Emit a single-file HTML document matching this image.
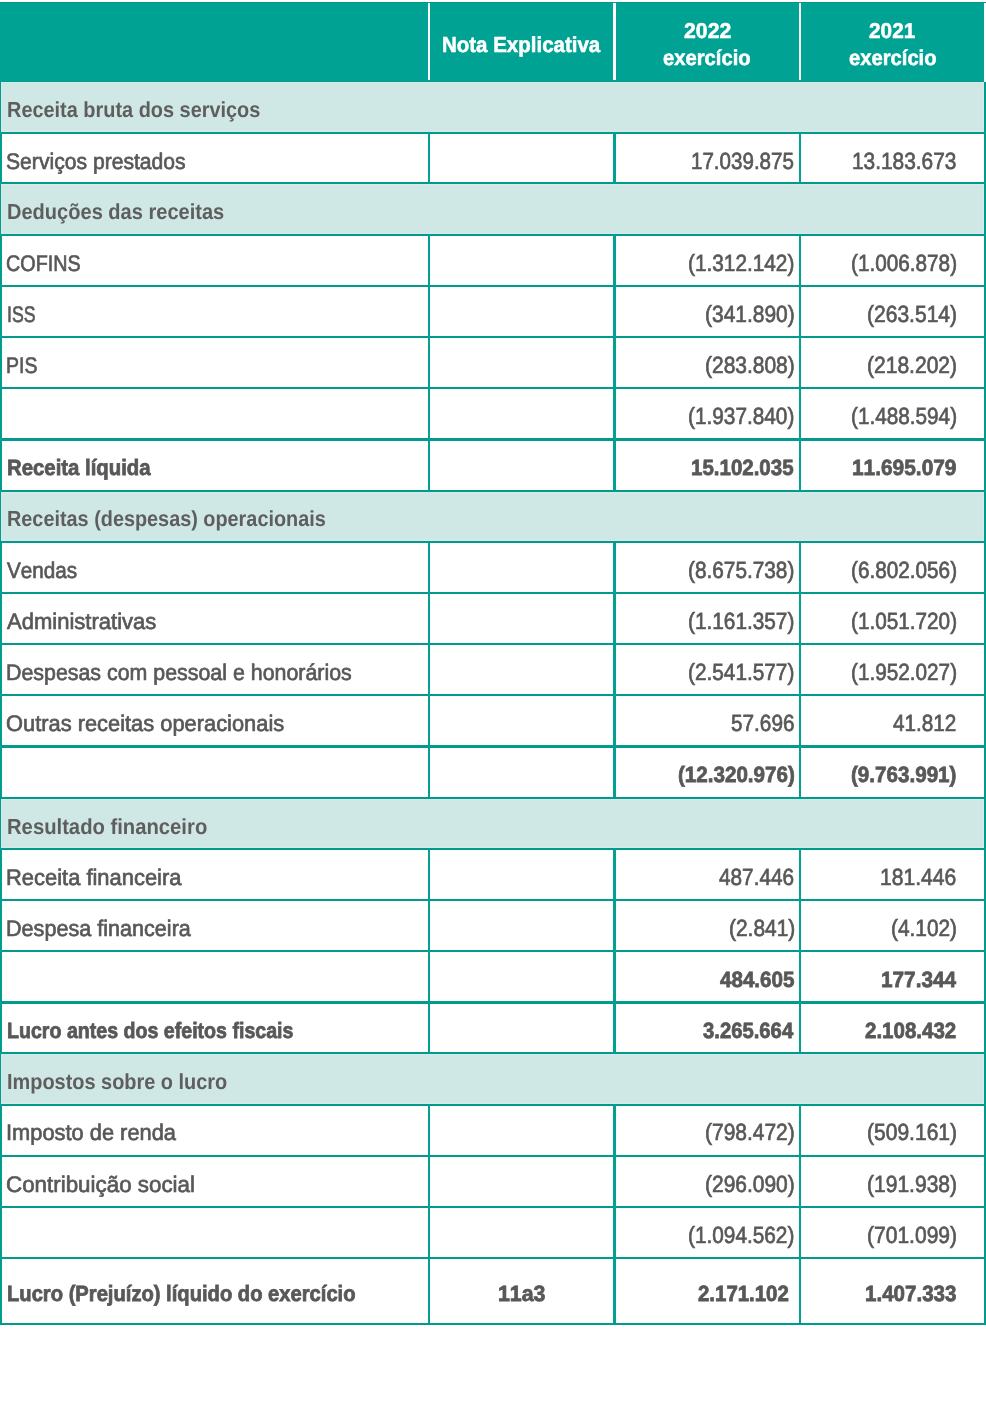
<!DOCTYPE html>
<html><head><meta charset="utf-8"><style>
html,body{margin:0;padding:0;background:#fff}
body{width:986px;height:1421px;overflow:hidden;position:relative;font-family:"Liberation Sans",sans-serif}
div{position:absolute}
.t{text-rendering:geometricPrecision;white-space:nowrap;font-size:20px;line-height:20px;transform-origin:0 0;font-kerning:none;font-variant-ligatures:none}
.L{background:#009b8d}
.V{background:#00a092}
</style></head><body>

<div style="left:0;top:2px;width:986px;height:1px;background:#009a8c"></div>
<div style="left:0;top:3px;width:984px;height:79px;background:#00a294"></div>
<div style="left:0;top:81px;width:984px;height:1px;background:#009c8e"></div>
<div style="left:428px;top:3px;width:2px;height:77px;background:#fff"></div>
<div style="left:613px;top:3px;width:3px;height:77px;background:#fff"></div>
<div style="left:799px;top:3px;width:2px;height:77px;background:#fff"></div>
<div style="left:1px;top:82px;width:983px;height:50px;background:#d0e8e5;box-shadow:inset 0 0 0 1px #d6eae7"></div>
<div style="left:1px;top:184px;width:983px;height:50px;background:#d0e8e5;box-shadow:inset 0 0 0 1px #d6eae7"></div>
<div style="left:1px;top:492px;width:983px;height:49px;background:#d0e8e5;box-shadow:inset 0 0 0 1px #d6eae7"></div>
<div style="left:1px;top:799px;width:983px;height:49px;background:#d0e8e5;box-shadow:inset 0 0 0 1px #d6eae7"></div>
<div style="left:1px;top:1054px;width:983px;height:50px;background:#d0e8e5;box-shadow:inset 0 0 0 1px #d6eae7"></div>
<div class="L" style="left:0;top:82px;width:1px;height:1243px"></div>
<div class="L" style="left:984px;top:82px;width:2px;height:1243px"></div>
<div class="V" style="left:1px;top:132px;width:1px;height:52px"></div>
<div class="V" style="left:428px;top:132px;width:2px;height:52px"></div>
<div class="V" style="left:613px;top:132px;width:3px;height:52px"></div>
<div class="V" style="left:799px;top:132px;width:2px;height:52px"></div>
<div class="V" style="left:1px;top:234px;width:1px;height:258px"></div>
<div class="V" style="left:428px;top:234px;width:2px;height:258px"></div>
<div class="V" style="left:613px;top:234px;width:3px;height:258px"></div>
<div class="V" style="left:799px;top:234px;width:2px;height:258px"></div>
<div class="V" style="left:1px;top:541px;width:1px;height:258px"></div>
<div class="V" style="left:428px;top:541px;width:2px;height:258px"></div>
<div class="V" style="left:613px;top:541px;width:3px;height:258px"></div>
<div class="V" style="left:799px;top:541px;width:2px;height:258px"></div>
<div class="V" style="left:1px;top:848px;width:1px;height:206px"></div>
<div class="V" style="left:428px;top:848px;width:2px;height:206px"></div>
<div class="V" style="left:613px;top:848px;width:3px;height:206px"></div>
<div class="V" style="left:799px;top:848px;width:2px;height:206px"></div>
<div class="V" style="left:1px;top:1104px;width:1px;height:221px"></div>
<div class="V" style="left:428px;top:1104px;width:2px;height:221px"></div>
<div class="V" style="left:613px;top:1104px;width:3px;height:221px"></div>
<div class="V" style="left:799px;top:1104px;width:2px;height:221px"></div>
<div class="L" style="left:0;top:132px;width:986px;height:2px"></div>
<div class="L" style="left:0;top:182px;width:986px;height:2px"></div>
<div class="L" style="left:0;top:234px;width:986px;height:2px"></div>
<div class="L" style="left:0;top:285px;width:986px;height:2px"></div>
<div class="L" style="left:0;top:336px;width:986px;height:2px"></div>
<div class="L" style="left:0;top:387px;width:986px;height:2px"></div>
<div class="L" style="left:0;top:438px;width:986px;height:3px"></div>
<div class="L" style="left:0;top:490px;width:986px;height:2px"></div>
<div class="L" style="left:0;top:541px;width:986px;height:2px"></div>
<div class="L" style="left:0;top:592px;width:986px;height:2px"></div>
<div class="L" style="left:0;top:643px;width:986px;height:2px"></div>
<div class="L" style="left:0;top:694px;width:986px;height:2px"></div>
<div class="L" style="left:0;top:745px;width:986px;height:3px"></div>
<div class="L" style="left:0;top:797px;width:986px;height:2px"></div>
<div class="L" style="left:0;top:848px;width:986px;height:2px"></div>
<div class="L" style="left:0;top:899px;width:986px;height:2px"></div>
<div class="L" style="left:0;top:950px;width:986px;height:2px"></div>
<div class="L" style="left:0;top:1001px;width:986px;height:3px"></div>
<div class="L" style="left:0;top:1052px;width:986px;height:2px"></div>
<div class="L" style="left:0;top:1104px;width:986px;height:2px"></div>
<div class="L" style="left:0;top:1155px;width:986px;height:2px"></div>
<div class="L" style="left:0;top:1206px;width:986px;height:2px"></div>
<div class="L" style="left:0;top:1257px;width:986px;height:2px"></div>
<div class="L" style="left:0;top:1323px;width:986px;height:2px"></div>
<div class="t" style="left:6.57px;top:100.00px;color:#5e5e5e;font-weight:700;transform:matrix(0.9953,0,0,1.0901,0,0)">Receita bruta dos serviços</div>
<div class="t" style="left:6.36px;top:151.00px;color:#585858;-webkit-text-stroke:0.6px #585858;transform:matrix(1.0565,0,0,1.1282,0,0)">Serviços prestados</div>
<div class="t" style="left:6.56px;top:202.00px;color:#5e5e5e;font-weight:700;transform:matrix(1.0022,0,0,1.0901,0,0)">Deduções das receitas</div>
<div class="t" style="left:6.29px;top:253.00px;color:#585858;-webkit-text-stroke:0.6px #585858;transform:matrix(0.9876,0,0,1.1282,0,0)">COFINS</div>
<div class="t" style="left:6.53px;top:304.00px;color:#585858;-webkit-text-stroke:0.6px #585858;transform:matrix(0.8845,0,0,1.1282,0,0)">ISS</div>
<div class="t" style="left:5.69px;top:355.00px;color:#585858;-webkit-text-stroke:0.6px #585858;transform:matrix(0.9743,0,0,1.1282,0,0)">PIS</div>
<div class="t" style="left:6.89px;top:457.00px;color:#585858;font-weight:700;-webkit-text-stroke:0.7px #585858;transform:matrix(1.0175,0,0,1.1065,0,0)">Receita líquida</div>
<div class="t" style="left:6.57px;top:509.00px;color:#5e5e5e;font-weight:700;transform:matrix(0.9922,0,0,1.0901,0,0)">Receitas (despesas) operacionais</div>
<div class="t" style="left:7.22px;top:560.00px;color:#585858;-webkit-text-stroke:0.6px #585858;transform:matrix(1.0352,0,0,1.1282,0,0)">Vendas</div>
<div class="t" style="left:7.29px;top:611.00px;color:#585858;-webkit-text-stroke:0.6px #585858;transform:matrix(1.1016,0,0,1.1282,0,0)">Administrativas</div>
<div class="t" style="left:5.57px;top:662.00px;color:#585858;-webkit-text-stroke:0.6px #585858;transform:matrix(1.0689,0,0,1.1282,0,0)">Despesas com pessoal e honorários</div>
<div class="t" style="left:6.29px;top:713.00px;color:#585858;-webkit-text-stroke:0.6px #585858;transform:matrix(1.0927,0,0,1.1282,0,0)">Outras receitas operacionais</div>
<div class="t" style="left:6.55px;top:817.00px;color:#5e5e5e;font-weight:700;transform:matrix(1.0123,0,0,1.0901,0,0)">Resultado financeiro</div>
<div class="t" style="left:5.53px;top:867.00px;color:#585858;-webkit-text-stroke:0.6px #585858;transform:matrix(1.0959,0,0,1.1282,0,0)">Receita financeira</div>
<div class="t" style="left:5.55px;top:918.00px;color:#585858;-webkit-text-stroke:0.6px #585858;transform:matrix(1.0795,0,0,1.1282,0,0)">Despesa financeira</div>
<div class="t" style="left:6.93px;top:1020.00px;color:#585858;font-weight:700;-webkit-text-stroke:0.7px #585858;transform:matrix(0.9799,0,0,1.1065,0,0)">Lucro antes dos efeitos fiscais</div>
<div class="t" style="left:6.57px;top:1072.00px;color:#5e5e5e;font-weight:700;transform:matrix(0.9958,0,0,1.0901,0,0)">Impostos sobre o lucro</div>
<div class="t" style="left:6.21px;top:1122.00px;color:#585858;-webkit-text-stroke:0.6px #585858;transform:matrix(1.0919,0,0,1.1282,0,0)">Imposto de renda</div>
<div class="t" style="left:6.20px;top:1174.00px;color:#585858;-webkit-text-stroke:0.6px #585858;transform:matrix(1.1183,0,0,1.1282,0,0)">Contribuição social</div>
<div class="t" style="left:6.90px;top:1283.00px;color:#585858;font-weight:700;-webkit-text-stroke:0.7px #585858;transform:matrix(1.0085,0,0,1.1065,0,0)">Lucro (Prejuízo) líquido do exercício</div>
<div class="t" style="left:691.44px;top:150.00px;color:#585858;-webkit-text-stroke:0.6px #585858;transform:matrix(1.0281,0,0,1.1699,0,0)">17.039.875</div>
<div class="t" style="left:852.32px;top:150.00px;color:#585858;-webkit-text-stroke:0.6px #585858;transform:matrix(1.0428,0,0,1.1699,0,0)">13.183.673</div>
<div class="t" style="left:688.42px;top:252.00px;color:#585858;-webkit-text-stroke:0.6px #585858;transform:matrix(1.0397,0,0,1.1699,0,0)">(1.312.142)</div>
<div class="t" style="left:851.03px;top:252.00px;color:#585858;-webkit-text-stroke:0.6px #585858;transform:matrix(1.0367,0,0,1.1699,0,0)">(1.006.878)</div>
<div class="t" style="left:705.12px;top:303.00px;color:#585858;-webkit-text-stroke:0.6px #585858;transform:matrix(1.0474,0,0,1.1699,0,0)">(341.890)</div>
<div class="t" style="left:867.01px;top:303.00px;color:#585858;-webkit-text-stroke:0.6px #585858;transform:matrix(1.0521,0,0,1.1699,0,0)">(263.514)</div>
<div class="t" style="left:705.01px;top:354.00px;color:#585858;-webkit-text-stroke:0.6px #585858;transform:matrix(1.0485,0,0,1.1699,0,0)">(283.808)</div>
<div class="t" style="left:867.01px;top:354.00px;color:#585858;-webkit-text-stroke:0.6px #585858;transform:matrix(1.0521,0,0,1.1699,0,0)">(218.202)</div>
<div class="t" style="left:688.42px;top:405.00px;color:#585858;-webkit-text-stroke:0.6px #585858;transform:matrix(1.0397,0,0,1.1699,0,0)">(1.937.840)</div>
<div class="t" style="left:851.03px;top:405.00px;color:#585858;-webkit-text-stroke:0.6px #585858;transform:matrix(1.0367,0,0,1.1699,0,0)">(1.488.594)</div>
<div class="t" style="left:691.47px;top:457.00px;color:#585858;font-weight:700;-webkit-text-stroke:0.7px #585858;transform:matrix(1.0244,0,0,1.1065,0,0)">15.102.035</div>
<div class="t" style="left:852.05px;top:457.00px;color:#585858;font-weight:700;-webkit-text-stroke:0.7px #585858;transform:matrix(1.0436,0,0,1.1065,0,0)">11.695.079</div>
<div class="t" style="left:688.42px;top:559.00px;color:#585858;-webkit-text-stroke:0.6px #585858;transform:matrix(1.0397,0,0,1.1699,0,0)">(8.675.738)</div>
<div class="t" style="left:851.03px;top:559.00px;color:#585858;-webkit-text-stroke:0.6px #585858;transform:matrix(1.0367,0,0,1.1699,0,0)">(6.802.056)</div>
<div class="t" style="left:688.42px;top:610.00px;color:#585858;-webkit-text-stroke:0.6px #585858;transform:matrix(1.0397,0,0,1.1699,0,0)">(1.161.357)</div>
<div class="t" style="left:851.03px;top:610.00px;color:#585858;-webkit-text-stroke:0.6px #585858;transform:matrix(1.0367,0,0,1.1699,0,0)">(1.051.720)</div>
<div class="t" style="left:688.42px;top:661.00px;color:#585858;-webkit-text-stroke:0.6px #585858;transform:matrix(1.0397,0,0,1.1699,0,0)">(2.541.577)</div>
<div class="t" style="left:851.03px;top:661.00px;color:#585858;-webkit-text-stroke:0.6px #585858;transform:matrix(1.0367,0,0,1.1699,0,0)">(1.952.027)</div>
<div class="t" style="left:730.88px;top:712.00px;color:#585858;-webkit-text-stroke:0.6px #585858;transform:matrix(1.0384,0,0,1.1699,0,0)">57.696</div>
<div class="t" style="left:893.44px;top:712.00px;color:#585858;-webkit-text-stroke:0.6px #585858;transform:matrix(1.0364,0,0,1.1699,0,0)">41.812</div>
<div class="t" style="left:677.63px;top:764.00px;color:#585858;font-weight:700;-webkit-text-stroke:0.7px #585858;transform:matrix(1.0301,0,0,1.1065,0,0)">(12.320.976)</div>
<div class="t" style="left:851.33px;top:764.00px;color:#585858;font-weight:700;-webkit-text-stroke:0.7px #585858;transform:matrix(1.0307,0,0,1.1065,0,0)">(9.763.991)</div>
<div class="t" style="left:719.33px;top:866.00px;color:#585858;-webkit-text-stroke:0.6px #585858;transform:matrix(1.0383,0,0,1.1699,0,0)">487.446</div>
<div class="t" style="left:880.41px;top:866.00px;color:#585858;-webkit-text-stroke:0.6px #585858;transform:matrix(1.0554,0,0,1.1699,0,0)">181.446</div>
<div class="t" style="left:728.52px;top:917.00px;color:#585858;-webkit-text-stroke:0.6px #585858;transform:matrix(1.0457,0,0,1.1699,0,0)">(2.841)</div>
<div class="t" style="left:891.02px;top:917.00px;color:#585858;-webkit-text-stroke:0.6px #585858;transform:matrix(1.0425,0,0,1.1699,0,0)">(4.102)</div>
<div class="t" style="left:719.55px;top:969.00px;color:#585858;font-weight:700;-webkit-text-stroke:0.7px #585858;transform:matrix(1.0300,0,0,1.1065,0,0)">484.605</div>
<div class="t" style="left:880.76px;top:969.00px;color:#585858;font-weight:700;-webkit-text-stroke:0.7px #585858;transform:matrix(1.0387,0,0,1.1065,0,0)">177.344</div>
<div class="t" style="left:703.39px;top:1020.00px;color:#585858;font-weight:700;-webkit-text-stroke:0.7px #585858;transform:matrix(1.0134,0,0,1.1065,0,0)">3.265.664</div>
<div class="t" style="left:865.35px;top:1020.00px;color:#585858;font-weight:700;-webkit-text-stroke:0.7px #585858;transform:matrix(1.0252,0,0,1.1065,0,0)">2.108.432</div>
<div class="t" style="left:705.01px;top:1121.00px;color:#585858;-webkit-text-stroke:0.6px #585858;transform:matrix(1.0485,0,0,1.1699,0,0)">(798.472)</div>
<div class="t" style="left:867.01px;top:1121.00px;color:#585858;-webkit-text-stroke:0.6px #585858;transform:matrix(1.0521,0,0,1.1699,0,0)">(509.161)</div>
<div class="t" style="left:705.01px;top:1173.00px;color:#585858;-webkit-text-stroke:0.6px #585858;transform:matrix(1.0485,0,0,1.1699,0,0)">(296.090)</div>
<div class="t" style="left:867.01px;top:1173.00px;color:#585858;-webkit-text-stroke:0.6px #585858;transform:matrix(1.0521,0,0,1.1699,0,0)">(191.938)</div>
<div class="t" style="left:688.42px;top:1224.00px;color:#585858;-webkit-text-stroke:0.6px #585858;transform:matrix(1.0397,0,0,1.1699,0,0)">(1.094.562)</div>
<div class="t" style="left:867.01px;top:1224.00px;color:#585858;-webkit-text-stroke:0.6px #585858;transform:matrix(1.0521,0,0,1.1699,0,0)">(701.099)</div>
<div class="t" style="left:697.65px;top:1283.00px;color:#585858;font-weight:700;-webkit-text-stroke:0.7px #585858;transform:matrix(1.0206,0,0,1.1065,0,0)">2.171.102</div>
<div class="t" style="left:864.77px;top:1283.00px;color:#585858;font-weight:700;-webkit-text-stroke:0.7px #585858;transform:matrix(1.0275,0,0,1.1065,0,0)">1.407.333</div>
<div class="t" style="left:497.83px;top:1283.00px;color:#585858;font-weight:700;-webkit-text-stroke:0.7px #585858;transform:matrix(1.0669,0,0,1.1065,0,0)">11a3</div>
<div class="t" style="left:441.89px;top:35.00px;color:#ffffff;font-weight:700;-webkit-text-stroke:0.5px #ffffff;transform:matrix(1.0241,0,0,1.0870,0,0)">Nota Explicativa</div>
<div class="t" style="left:683.53px;top:21.00px;color:#ffffff;font-weight:700;-webkit-text-stroke:0.5px #ffffff;transform:matrix(1.0621,0,0,1.0729,0,0)">2022</div>
<div class="t" style="left:868.84px;top:21.00px;color:#ffffff;font-weight:700;-webkit-text-stroke:0.5px #ffffff;transform:matrix(1.0402,0,0,1.0729,0,0)">2021</div>
<div class="t" style="left:663.36px;top:48.00px;color:#ffffff;font-weight:700;-webkit-text-stroke:0.5px #ffffff;transform:matrix(1.0109,0,0,1.0756,0,0)">exercício</div>
<div class="t" style="left:848.66px;top:48.00px;color:#ffffff;font-weight:700;-webkit-text-stroke:0.5px #ffffff;transform:matrix(1.0097,0,0,1.0756,0,0)">exercício</div>
<div style="left:0;top:1400px;width:10px;height:10px;filter:grayscale(1)"></div>
</body></html>
